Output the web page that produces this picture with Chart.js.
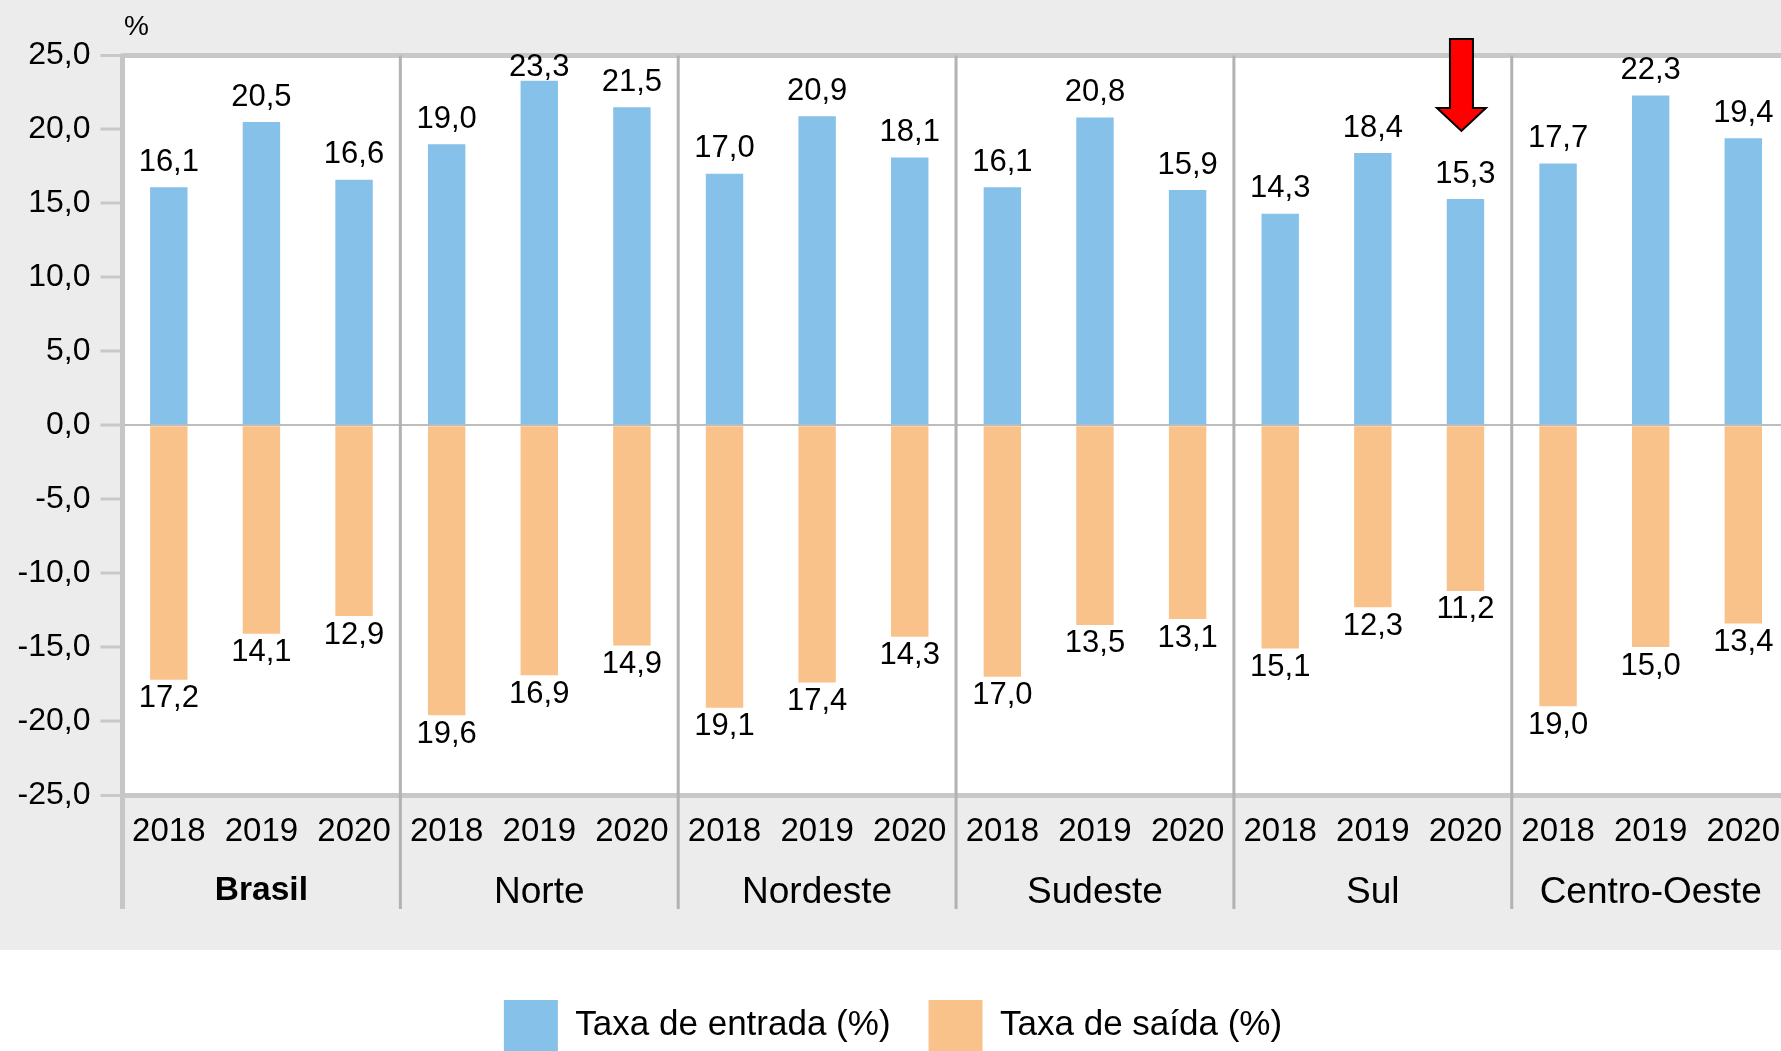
<!DOCTYPE html>
<html>
<head>
<meta charset="utf-8">
<script src="https://cdn.jsdelivr.net/npm/chart.js@4.4.0/dist/chart.umd.min.js"></script>
<style>
html, body { margin:0; padding:0; overflow:hidden; background:#fff; }
</style>
</head>
<body>
<canvas id="chart" width="1797" height="1070"></canvas>
<script>
// dados por região, três anos cada
var regions = ['Brasil', 'Norte', 'Nordeste', 'Sudeste', 'Sul', 'Centro-Oeste'];
var years = ['2018', '2019', '2020'];
var entrada = [16.1, 20.5, 16.6, 19.0, 23.3, 21.5, 17.0, 20.9, 18.1, 16.1, 20.8, 15.9, 14.3, 18.4, 15.3, 17.7, 22.3, 19.4];
var saida = [-17.2, -14.1, -12.9, -19.6, -16.9, -14.9, -19.1, -17.4, -14.3, -17.0, -13.5, -13.1, -15.1, -12.3, -11.2, -19.0, -15.0, -13.4];
var yMin = -25, yMax = 25, yStep = 5;
var arrowIndex = 14; // Sul 2020

var labels = [];
for (var r = 0; r < regions.length; r++){
	for (var k = 0; k < years.length; k++){
		labels.push(years[k]);
	}
}

function fmt(v){
	return Math.abs(v).toFixed(1).replace('.', ',');
}

var FONT = '"Liberation Sans", Arial, sans-serif';
Chart.defaults.font.family = FONT;
Chart.defaults.color = '#000';

var bgPlugin = {
	id: 'bg',
	afterLayout: function(chart){
		// legenda um pouco à esquerda do centro do canvas
		chart.legend.left -= 5.5;
		chart.legend.right -= 5.5;
	},
	beforeDraw: function(chart){
		var c = chart.ctx, a = chart.chartArea;
		c.save();
		c.fillStyle = '#ffffff';
		c.fillRect(0, 0, chart.width, chart.height);
		c.fillStyle = '#ececec';
		c.fillRect(0, 0, chart.width, 950);
		c.fillStyle = '#ffffff';
		c.fillRect(a.left, a.top, a.right - a.left, a.bottom - a.top);
		c.restore();
	}
};

var sepPlugin = {
	id: 'sep',
	beforeDatasetsDraw: function(chart){
		var c = chart.ctx, a = chart.chartArea, x = chart.scales.x;
		c.save();
		c.strokeStyle = '#b2b2b2';
		c.lineWidth = 3;
		for (var g = 1; g < regions.length; g++){
			var px = (x.getPixelForValue(g * 3 - 1) + x.getPixelForValue(g * 3)) / 2;
			c.beginPath();
			c.moveTo(px, a.top);
			c.lineTo(px, 909);
			c.stroke();
		}
		c.strokeStyle = '#c6c6c6';
		c.lineWidth = 5;
		c.beginPath();
		c.moveTo(a.left, a.top - 2);
		c.lineTo(a.left, 909);
		c.stroke();
		// unidade
		c.fillStyle = '#000';
		c.font = '28px ' + FONT;
		c.textAlign = 'center';
		c.textBaseline = 'middle';
		c.fillText('%', a.left + 14, a.top - 28);
		c.restore();
	}
};

var valuePlugin = {
	id: 'vals',
	afterDatasetsDraw: function(chart){
		var c = chart.ctx, a = chart.chartArea;
		c.save();
		c.font = '31px ' + FONT;
		c.fillStyle = '#000';
		c.textAlign = 'center';
		c.textBaseline = 'middle';
		chart.data.datasets.forEach(function(ds, i){
			chart.getDatasetMeta(i).data.forEach(function(bar, j){
				var v = ds.data[j];
				var y = v >= 0 ? Math.max(bar.y - 25, a.top + 12) : bar.y + 19;
				c.fillText(fmt(v), bar.x, y);
			});
		});
		c.restore();
	}
};

var arrowPlugin = {
	id: 'arrow',
	afterDraw: function(chart){
		var c = chart.ctx;
		var px = chart.scales.x.getPixelForValue(arrowIndex) - 4;
		var tip = chart.scales.y.getPixelForValue(entrada[arrowIndex]) - 68;
		var top = tip - 92, neck = tip - 23;
		c.save();
		c.beginPath();
		c.moveTo(px - 11.5, top);
		c.lineTo(px + 11.5, top);
		c.lineTo(px + 11.5, neck);
		c.lineTo(px + 24.5, neck);
		c.lineTo(px, tip);
		c.lineTo(px - 24.5, neck);
		c.lineTo(px - 11.5, neck);
		c.closePath();
		c.fillStyle = '#ff0000';
		c.fill();
		c.strokeStyle = '#000';
		c.lineWidth = 2;
		c.stroke();
		c.restore();
	}
};

var ctx = document.getElementById('chart').getContext('2d');
var myChart = new Chart(ctx, {
	type: 'bar',
	data: {
		labels: labels,
		datasets: [{
			label: 'Taxa de entrada (%)',
			data: entrada,
			backgroundColor: '#86c1e9',
			borderWidth: 0,
			barPercentage: 0.404,
			categoryPercentage: 1
		}, {
			label: 'Taxa de saída (%)',
			data: saida,
			backgroundColor: '#f9c28b',
			borderWidth: 0,
			barPercentage: 0.404,
			categoryPercentage: 1
		}]
	},
	options: {
		responsive: false,
		animation: false,
		layout: { padding: { top: 55.5, left: 0, right: 0, bottom: 9 } },
		plugins: {
			legend: {
				position: 'bottom',
				labels: {
					boxWidth: 54,
					boxHeight: 51,
					padding: 38,
					font: { size: 35 },
					color: '#000'
				}
			},
			tooltip: { enabled: false }
		},
		scales: {
			x: {
				stacked: true,
				position: 'bottom',
				grid: { display: false, drawTicks: false },
				border: { display: false },
				ticks: { font: { size: 33 }, padding: 17, maxRotation: 0, autoSkip: false },
				afterFit: function(s){ s.height = 70; }
			},
			x2: {
				type: 'category',
				labels: regions,
				position: 'bottom',
				offset: true,
				grid: { display: false, drawTicks: false },
				border: { display: false },
				ticks: {
					padding: 6,
					font: function(c){
						return c.index === 0 ? { size: 33.5, weight: 'bold' } : { size: 37, weight: 'normal' };
					}
				},
				afterFit: function(s){ s.height = 97; }
			},
			y: {
				stacked: true,
				min: yMin,
				max: yMax,
				border: { display: false },
				ticks: {
					stepSize: yStep,
					font: { size: 32 },
					padding: 10,
					callback: function(v){ return v.toFixed(1).replace('.', ','); }
				},
				grid: {
					drawOnChartArea: true,
					tickLength: 22,
					tickWidth: 3,
					tickColor: '#c8c8c8',
					color: function(c){
						var v = c.tick ? c.tick.value : 1;
						if (v === yMin || v === yMax) return '#c8c8c8';
						if (v === 0) return '#bdbdbd';
						return 'rgba(0,0,0,0)';
					},
					lineWidth: function(c){
						var v = c.tick ? c.tick.value : 1;
						if (v === yMin || v === yMax) return 5;
						return 2;
					}
				},
				afterFit: function(s){ s.width = 122.5; }
			}
		}
	},
	plugins: [bgPlugin, sepPlugin, valuePlugin, arrowPlugin]
});
</script>
</body>
</html>
